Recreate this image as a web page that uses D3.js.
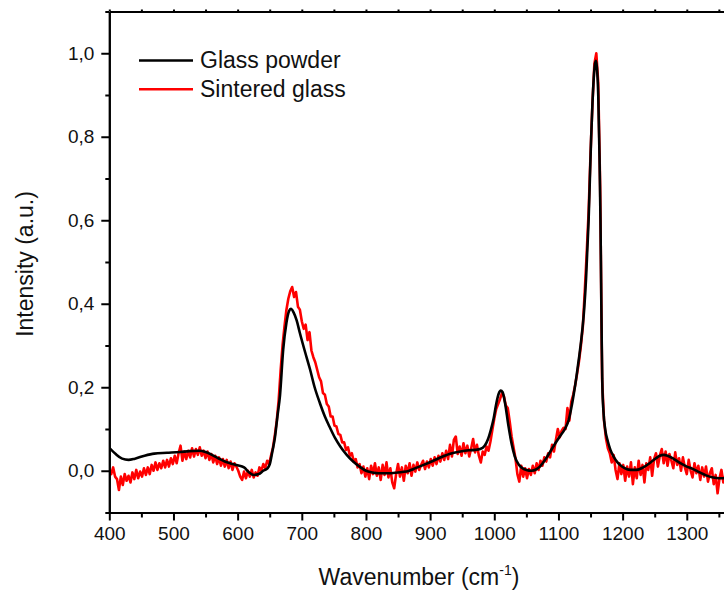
<!DOCTYPE html>
<html>
<head>
<meta charset="utf-8">
<script src="https://cdn.jsdelivr.net/npm/d3@7/dist/d3.min.js"></script>
<style>
  html, body { margin: 0; padding: 0; background: #fff; }
  svg { display: block; font-family: Arial, "Liberation Sans", sans-serif; }
</style>
</head>
<body>
<svg id="chart" width="724" height="591"></svg>
<script>
// Raman spectra: glass powder (smoothed) and sintered glass (raw, step 3 cm-1)

const powderWavenumber = [
  400, 410, 420, 430, 440, 455, 470, 490, 510, 525, 540, 550, 560, 570, 580, 590, 600, 610, 618, 625,
  633, 640, 646, 650, 654, 658, 662, 666, 671, 676, 680, 683, 687, 692, 697, 705, 713, 720, 728, 736,
  744, 752, 760, 770, 780, 790, 800, 810, 820, 835, 850, 863, 875, 890, 905, 915, 930, 947, 960, 970,
  978, 985, 990, 995, 999, 1003, 1007, 1010, 1013, 1017, 1022, 1027, 1032, 1038, 1045, 1050, 1058, 1065, 1071, 1080,
  1092, 1102, 1110, 1116, 1120, 1124, 1128, 1132, 1136, 1140, 1143, 1145, 1147, 1149, 1151, 1153, 1155, 1157, 1158.5, 1160,
  1162, 1164, 1165.5, 1166.5, 1167.5, 1168.5, 1170, 1173, 1177, 1181, 1186, 1192, 1199, 1206, 1212, 1222, 1232, 1242, 1252, 1258,
  1264, 1270, 1280, 1290, 1300, 1310, 1320, 1330, 1341, 1350, 1360
];
const powderIntensity = [
  0.055, 0.040, 0.029, 0.026, 0.029, 0.036, 0.041, 0.043, 0.045, 0.047, 0.048, 0.045, 0.038, 0.030, 0.022, 0.017, 0.013, 0.008, -0.004, -0.010,
  -0.008, 0.000, 0.005, 0.015, 0.045, 0.078, 0.130, 0.180, 0.290, 0.354, 0.382, 0.388, 0.380, 0.360, 0.330, 0.285, 0.242, 0.200, 0.163, 0.130,
  0.103, 0.078, 0.058, 0.038, 0.022, 0.010, 0.000, -0.004, -0.006, -0.006, -0.004, -0.002, 0.005, 0.014, 0.024, 0.031, 0.040, 0.046, 0.049, 0.050,
  0.052, 0.060, 0.075, 0.100, 0.125, 0.160, 0.185, 0.192, 0.188, 0.160, 0.108, 0.065, 0.034, 0.015, 0.005, 0.002, 0.000, 0.003, 0.010, 0.028,
  0.058, 0.082, 0.100, 0.122, 0.150, 0.185, 0.225, 0.270, 0.320, 0.385, 0.460, 0.530, 0.600, 0.700, 0.800, 0.880, 0.940, 0.975, 0.982, 0.965,
  0.900, 0.750, 0.600, 0.450, 0.300, 0.200, 0.145, 0.098, 0.070, 0.050, 0.034, 0.020, 0.010, 0.004, 0.002, 0.002, 0.008, 0.018, 0.030, 0.036,
  0.038, 0.036, 0.028, 0.018, 0.010, 0.004, -0.004, -0.011, -0.016, -0.018, -0.018
];

// Sintered glass: first point at 400 cm-1, one value every 3 cm-1 (10 values per row = 30 cm-1)
const sinteredStart = 400;
const sinteredStep = 3;
const sinteredIntensity = [
  0.002, -0.008, 0.008, -0.014, -0.020, -0.046, -0.014, -0.034, -0.008, -0.024,
  -0.012, -0.028, -0.004, -0.020, 0.002, -0.018, -0.002, -0.014, 0.006, -0.010,
  0.008, -0.008, 0.014, 0.000, 0.020, 0.002, 0.018, 0.006, 0.024, 0.008,
  0.026, 0.010, 0.030, 0.016, 0.036, 0.018, 0.042, 0.060, 0.024, 0.046,
  0.028, 0.048, 0.032, 0.054, 0.034, 0.052, 0.038, 0.056, 0.036, 0.048,
  0.030, 0.046, 0.026, 0.040, 0.020, 0.036, 0.016, 0.032, 0.012, 0.028,
  0.010, 0.026, 0.006, 0.022, 0.002, 0.018, 0.010, 0.000, -0.014, -0.022,
  -0.002, -0.018, 0.000, -0.014, 0.002, -0.016, -0.004, -0.012, 0.008, 0.000,
  0.016, 0.006, 0.024, 0.016, 0.036, 0.055, 0.085, 0.120, 0.170, 0.240,
  0.300, 0.345, 0.385, 0.412, 0.430, 0.440, 0.416, 0.428, 0.393, 0.386,
  0.358, 0.340, 0.350, 0.313, 0.332, 0.288, 0.272, 0.260, 0.242, 0.224,
  0.214, 0.186, 0.182, 0.160, 0.154, 0.130, 0.130, 0.108, 0.106, 0.088,
  0.086, 0.068, 0.068, 0.050, 0.056, 0.036, 0.042, 0.022, 0.028, 0.008,
  0.016, -0.006, 0.010, -0.014, 0.006, -0.020, 0.012, -0.008, 0.018, -0.012,
  0.008, -0.022, 0.014, -0.010, 0.020, -0.016, 0.006, -0.028, -0.042, -0.008,
  0.016, -0.014, 0.008, -0.024, 0.012, -0.006, 0.018, -0.012, 0.014, -0.002,
  0.020, 0.002, 0.014, 0.024, 0.004, 0.022, 0.008, 0.028, 0.012, 0.032,
  0.016, 0.036, 0.022, 0.042, 0.026, 0.048, 0.028, 0.062, 0.034, 0.074,
  0.082, 0.040, 0.058, 0.036, 0.066, 0.042, 0.060, 0.034, 0.054, 0.076,
  0.044, 0.062, 0.036, 0.020, 0.046, 0.038, 0.058, 0.048, 0.070, 0.098,
  0.125, 0.148, 0.160, 0.172, 0.186, 0.178, 0.156, 0.150, 0.118, 0.082,
  0.056, 0.030, -0.008, -0.026, 0.012, -0.014, 0.006, -0.018, 0.004, -0.010,
  0.012, -0.006, 0.018, 0.002, 0.024, 0.012, 0.032, 0.022, 0.042, 0.032,
  0.062, 0.046, 0.074, 0.100, 0.080, 0.096, 0.103, 0.100, 0.150, 0.120,
  0.165, 0.182, 0.205, 0.232, 0.262, 0.300, 0.345, 0.430, 0.520, 0.620,
  0.760, 0.880, 0.975, 1.000, 0.930, 0.680, 0.220, 0.120, 0.078, 0.054,
  0.042, 0.020, 0.038, 0.002, -0.020, 0.018, -0.008, 0.014, -0.024, 0.010,
  -0.014, 0.020, -0.032, 0.008, -0.018, 0.024, -0.010, 0.014, -0.028, 0.018,
  0.002, 0.032, -0.012, 0.028, 0.042, 0.010, 0.036, 0.052, 0.018, 0.046,
  0.012, 0.040, 0.024, 0.006, 0.044, 0.014, 0.030, 0.000, 0.032, 0.008,
  -0.008, 0.026, 0.000, -0.016, 0.018, -0.006, 0.012, -0.022, 0.008, -0.014,
  0.010, -0.026, -0.006, 0.006, -0.032, -0.010, -0.054, -0.018, 0.002, -0.028,
  -0.012
];

const xMajorTicks = [400, 500, 600, 700, 800, 900, 1000, 1100, 1200, 1300];
const xMinorTicks = [450, 550, 650, 750, 850, 950, 1050, 1150, 1250, 1350];
const yMajorTicks = [0.0, 0.2, 0.4, 0.6, 0.8, 1.0];
const yMinorTicks = [-0.1, 0.1, 0.3, 0.5, 0.7, 0.9, 1.1];

const seriesNames = ["Glass powder", "Sintered glass"];
const seriesColors = ["#000000", "#ff0000"];

const svg = d3.select("#chart");
const plotLeft = 109.3, plotRight = 724, plotTop = 11.5, plotBottom = 512.5;

const x = d3.scaleLinear().domain([400, 1358]).range([plotLeft, plotRight]);
const y = d3.scaleLinear().domain([-0.1, 1.1]).range([plotBottom, plotTop]);

const comma = d3.formatLocale({decimal: ",", thousands: ".", grouping: [3], currency: ["", ""]}).format(".1f");

svg.append("defs").append("clipPath").attr("id", "plotClip")
  .append("rect").attr("x", plotLeft).attr("y", plotTop)
  .attr("width", plotRight - plotLeft + 2).attr("height", plotBottom - plotTop);

const powder = powderWavenumber.map((w, i) => [w, powderIntensity[i]]);
const sintered = sinteredIntensity.map((v, i) => [sinteredStart + i * sinteredStep, v]);

const plot = svg.append("g").attr("clip-path", "url(#plotClip)");

plot.append("path")
  .datum(sintered)
  .attr("fill", "none")
  .attr("stroke", seriesColors[1])
  .attr("stroke-width", 2.6)
  .attr("stroke-linejoin", "round")
  .attr("d", d3.line().x(d => x(d[0])).y(d => y(d[1])));

plot.append("path")
  .datum(powder)
  .attr("fill", "none")
  .attr("stroke", seriesColors[0])
  .attr("stroke-width", 2.6)
  .attr("stroke-linejoin", "round")
  .attr("d", d3.line().curve(d3.curveMonotoneX).x(d => x(d[0])).y(d => y(d[1])));

// Axes
function styleAxis(g) {
  g.selectAll(".domain").attr("stroke", "#000").attr("stroke-width", 2);
  g.selectAll(".tick line").attr("stroke", "#000").attr("stroke-width", 2);
  g.selectAll(".tick text").attr("fill", "#111").style("font-size", "19px")
    .style("font-family", "Arial, 'Liberation Sans', sans-serif");
}

svg.append("g").attr("transform", `translate(0,${plotBottom})`)
  .call(d3.axisBottom(x).tickValues(xMinorTicks).tickSize(5).tickFormat("").tickSizeOuter(0))
  .call(styleAxis);
svg.append("g").attr("transform", `translate(0,${plotBottom})`)
  .call(d3.axisBottom(x).tickValues(xMajorTicks).tickSize(8).tickPadding(6).tickFormat(d3.format("d")).tickSizeOuter(0))
  .call(styleAxis);

svg.append("g").attr("transform", `translate(0,${plotTop})`)
  .call(d3.axisTop(x).tickValues(xMajorTicks.concat(xMinorTicks)).tickSize(2).tickFormat("").tickSizeOuter(0))
  .call(styleAxis);

svg.append("g").attr("transform", `translate(${plotLeft},0)`)
  .call(d3.axisLeft(y).tickValues(yMinorTicks).tickSize(4).tickFormat("").tickSizeOuter(0))
  .call(styleAxis);
svg.append("g").attr("transform", `translate(${plotLeft},0)`)
  .call(d3.axisLeft(y).tickValues(yMajorTicks).tickSize(8).tickPadding(7).tickFormat(comma).tickSizeOuter(0))
  .call(styleAxis);

// Axis titles
const xt = svg.append("text")
  .attr("x", 419).attr("y", 585)
  .attr("text-anchor", "middle")
  .style("font-size", "23px").attr("fill", "#111");
xt.append("tspan").text("Wavenumber (cm");
xt.append("tspan").attr("dy", -10).style("font-size", "14px").text("-1");
xt.append("tspan").attr("dy", 10).text(")");

svg.append("text")
  .attr("transform", "translate(33,264) rotate(-90)")
  .attr("text-anchor", "middle")
  .style("font-size", "23px").attr("fill", "#111")
  .text("Intensity (a.u.)");

// Legend
const legend = svg.append("g");
seriesNames.forEach((name, i) => {
  const ly = 60.5 + i * 28.7;
  legend.append("line")
    .attr("x1", 139).attr("x2", 193).attr("y1", ly).attr("y2", ly)
    .attr("stroke", seriesColors[i]).attr("stroke-width", 2.5);
  legend.append("text")
    .attr("x", 200).attr("y", ly + 7.5)
    .style("font-size", "23px").attr("fill", "#111")
    .text(name);
});
</script>
</body>
</html>
